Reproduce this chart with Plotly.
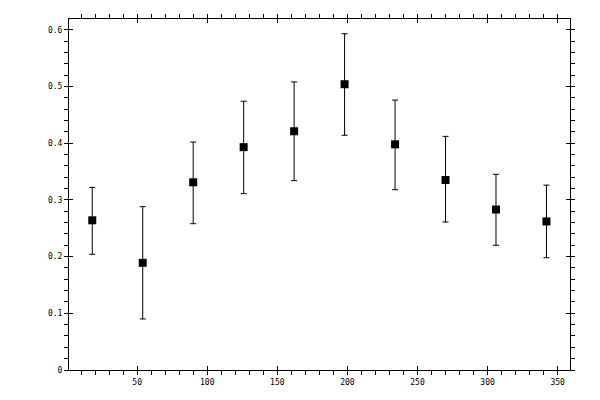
import plotly.graph_objects as go

angles = [18, 54, 90, 126, 162, 198, 234, 270, 306, 342]
values = [0.264, 0.189, 0.331, 0.393, 0.421, 0.504, 0.398, 0.335, 0.283, 0.262]
err_plus = [0.058, 0.099, 0.071, 0.081, 0.087, 0.089, 0.078, 0.077, 0.062, 0.064]
err_minus = [0.060, 0.099, 0.073, 0.082, 0.087, 0.090, 0.080, 0.074, 0.063, 0.064]

x_ticks = [50, 100, 150, 200, 250, 300, 350]
y_ticks = [0, 0.1, 0.2, 0.3, 0.4, 0.5, 0.6]
y_labels = ["0", "0.1", "0.2", "0.3", "0.4", "0.5", "0.6"]

x_range = [1.4, 358.8]
y_range = [0, 0.619]
font = dict(family="DejaVu Sans Mono", size=8, color="black")


def build_figure():
    """
    Squares with error bars, boxed axes with ticks on all four sides.
    """
    fig = go.Figure()
    fig.add_trace(go.Scatter(
        x=angles, y=values, mode="markers",
        marker=dict(symbol="square", size=8, color="black"),
        error_y=dict(type="data", symmetric=False, array=err_plus,
                     arrayminus=err_minus, color="black", thickness=1, width=3),
        showlegend=False))

    axis_common = dict(showgrid=False, zeroline=False, linecolor="black",
                       linewidth=1, mirror="ticks", ticks="outside",
                       ticklen=4, tickwidth=1, tickcolor="black",
                       tickfont=font, automargin=False)
    # page body has an 8px margin, so the figure is a bit smaller than the window
    fig.update_layout(
        width=592, height=392,
        margin=dict(l=61, r=30, t=11, b=30),
        paper_bgcolor="white", plot_bgcolor="white",
        xaxis=dict(range=x_range, tickvals=x_ticks,
                   minor=dict(dtick=10, tick0=0, ticks="outside", ticklen=4,
                              tickcolor="black", showgrid=False),
                   **axis_common),
        yaxis=dict(range=y_range, tickvals=y_ticks, ticktext=y_labels,
                   minor=dict(dtick=0.02, tick0=0, ticks="outside", ticklen=4,
                              tickcolor="black", showgrid=False),
                   **axis_common),
        # overlay axes so the major ticks cross the frame
        xaxis2=dict(overlaying="x", range=x_range, showgrid=False,
                    zeroline=False, showline=False, showticklabels=False,
                    tickvals=x_ticks, automargin=False,
                    ticks="inside", ticklen=4, tickcolor="black", mirror="ticks"),
        yaxis2=dict(overlaying="y", range=y_range, showgrid=False,
                    zeroline=False, showline=False, showticklabels=False,
                    tickvals=y_ticks, automargin=False,
                    ticks="inside", ticklen=4, tickcolor="black", mirror="ticks"),
    )
    fig.add_trace(go.Scatter(x=[None], y=[None], xaxis="x2", yaxis="y2",
                             showlegend=False, hoverinfo="skip"))
    return fig


if __name__ == "__main__":
    fig = build_figure()
    fig.write_html("out.html")
